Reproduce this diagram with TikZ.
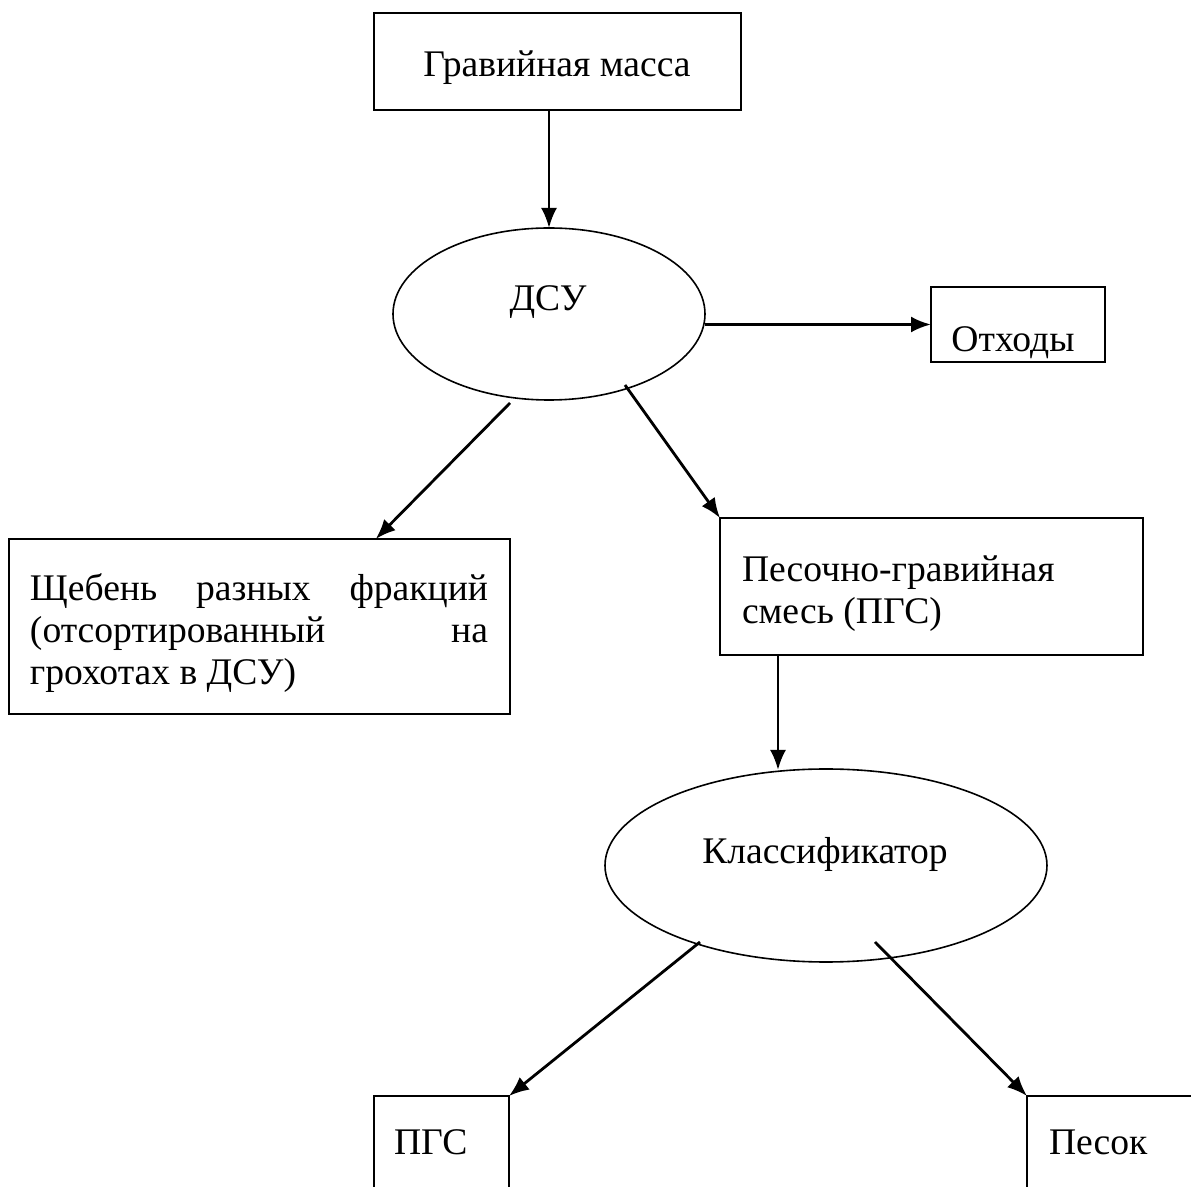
\documentclass[tikz,border=0pt]{standalone}
\usepackage{fontspec}
\setmainfont{Liberation Serif}
\usetikzlibrary{shapes.geometric,arrows.meta,calc}
\begin{document}
\begin{tikzpicture}[x=0.5pt,y=-0.5pt,
  box/.style={draw, line width=1pt, rectangle, inner sep=0pt, outer sep=0pt},
  oval/.style={draw, line width=0.8pt, ellipse, inner sep=0pt, outer sep=0pt},
  lbl/.style={inner sep=0pt, outer sep=0pt, anchor=base, font=\fontsize{18.8}{21}\selectfont},
  arr/.style={line width=1.4pt, -{Latex[length=10pt,width=8pt]}}]
\clip (0,0) rectangle (1191,1187);
\fill[white] (0,0) rectangle (1191,1187);
% boxes and ellipses
\node[box, minimum width=183.5pt, minimum height=48.5pt] (top) at (557.5,61.5) {};
\node[lbl] (toptxt) at (557,77) {Гравийная масса};
\node[oval, minimum width=156pt, minimum height=86pt] (dsu) at (549,314) {};
\node[lbl] (dsutxt) at (548,311) {ДСУ};
\node[box, minimum width=87pt, minimum height=37.5pt] (otx) at (1018,324.5) {};
\node[lbl] (otxtxt) at (1013,352) {Отходы};
\node[box, minimum width=250.5pt, minimum height=87.5pt] (sheb) at (259.5,626.5) {};
\node[lbl, anchor=base west] (shebtxt) at (30,601) {\parbox[t]{229pt}{\hyphenpenalty=10000\exhyphenpenalty=10000 Щебень разных фракций\linebreak (отсортированный на\linebreak грохотах в ДСУ)}};
\node[box, minimum width=211.5pt, minimum height=68.5pt] (pgs) at (931.5,586.5) {};
\node[lbl, anchor=base west] (pgstxt) at (742,582) {\parbox[t]{200pt}{\raggedright Песочно-гравийная\\смесь (ПГС)}};
\node[oval, minimum width=221pt, minimum height=96.5pt] (kl) at (826,865.5) {};
\node[lbl] (kltxt) at (825,864) {Классификатор};
\node[box, minimum width=67.5pt, minimum height=100pt, anchor=north west] (pgsb) at (374,1096) {};
\node[lbl, anchor=base west] (pgsbtxt) at (394,1155) {ПГС};
\node[box, minimum width=120pt, minimum height=100pt, anchor=north west] (pes) at (1027,1096) {};
\node[lbl, anchor=base west] (pestxt) at (1049,1155) {Песок};
% connector coordinates
\coordinate (d1) at (510,403);
\coordinate (d2) at (625,385);
\coordinate (k1) at (778,770);
\coordinate (k2) at (700,942);
\coordinate (k3) at (875,942);
% connectors
\draw[arr] (dsu.north |- top.south) -- (dsu.north);
\draw[arr] (dsu.east |- otx.west) -- (otx.west);
\draw[arr] (d1) -- ($(sheb.north west)!0.732!(sheb.north east)$);
\draw[arr] (d2) -- (pgs.north west);
\draw[arr] (k1 |- pgs.south) -- (k1);
\draw[arr] (k2) -- (pgsb.north east);
\draw[arr] (k3) -- (pes.north west);
\end{tikzpicture}
\end{document}
